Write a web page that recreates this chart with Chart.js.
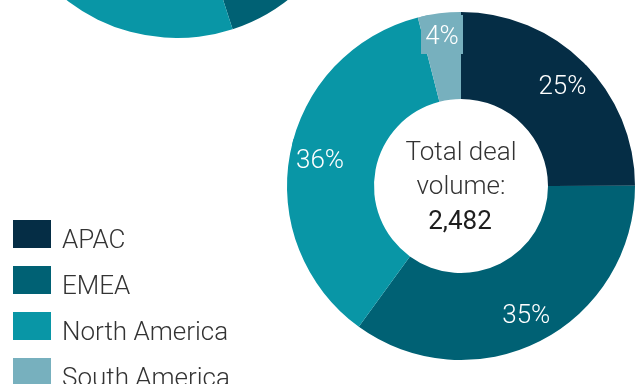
<!DOCTYPE html>
<html>
<head>
<meta charset="utf-8">
<script src="https://cdn.jsdelivr.net/npm/chart.js@4.4.1/dist/chart.umd.min.js"></script>
<style>
  html, body { margin: 0; width: 641px; height: 384px; overflow: hidden; background: #fff; }
  body { position: relative; font-family: Roboto, "Noto Sans", sans-serif; }
  #mainChart { position: absolute; left: 0; top: 0; }
  #otherChart { position: absolute; left: -3px; top: -322px; }
  #legend { position: absolute; left: 13px; top: 220px; margin: 0; padding: 0; list-style: none; }
  #legend li { display: flex; align-items: flex-start; height: 46px; }
  #legend .box { width: 38px; height: 28px; flex: none; }
  #legend .txt { margin-left: 11px; font-size: 26px; font-weight: 300; color: #333; line-height: 28px; position: relative; top: 5px; white-space: nowrap; }
</style>
</head>
<body>
<canvas id="otherChart" width="360" height="360"></canvas>
<canvas id="mainChart" width="641" height="384"></canvas>
<ul id="legend"></ul>
<script>
const regions = ["APAC", "EMEA", "North America", "South America"];
const regionColors = ["#052d45", "#006174", "#0996a6", "#77b0be"];
// deal counts per region (main doughnut)
const dealVolume = [620, 869, 894, 99];
// second doughnut, mostly outside the frame (share %)
const otherShare = [18, 27, 49, 6];
const centerLines = ["Total deal", "volume:"];

const total = dealVolume.reduce((a, b) => a + b, 0);

const legendEl = document.getElementById("legend");
regions.forEach((name, i) => {
  const li = document.createElement("li");
  li.innerHTML = '<span class="box" style="background:' + regionColors[i] + '"></span><span class="txt">' + name + "</span>";
  legendEl.appendChild(li);
});

// percentage labels on a box of the slice colour, placed along the mid angle
const sliceLabels = {
  id: "sliceLabels",
  afterDatasetsDraw(chart) {
    const ctx = chart.ctx;
    const meta = chart.getDatasetMeta(0);
    const data = chart.data.datasets[0].data;
    const sum = data.reduce((a, b) => a + b, 0);
    const size = 26;
    ctx.save();
    ctx.font = "300 " + size + "px Roboto";
    ctx.textAlign = "center";
    ctx.textBaseline = "alphabetic";
    meta.data.forEach((arc, i) => {
      const p = arc.getProps(["x", "y", "startAngle", "endAngle", "outerRadius"], true);
      const mid = (p.startAngle + p.endAngle) / 2;
      const pct = Math.round(data[i] / sum * 100);
      const text = pct + "%";
      // narrow slices get their label pushed a bit further out
      const r = p.outerRadius * (pct < 10 ? 0.875 : 0.825);
      const cx = p.x + Math.cos(mid) * r;
      const cy = p.y + Math.sin(mid) * r;
      const w = ctx.measureText(text).width + 8;
      const h = size * 1.2 + 8;
      ctx.save();
      ctx.beginPath();
      ctx.arc(p.x, p.y, p.outerRadius, 0, Math.PI * 2);
      ctx.clip();
      ctx.fillStyle = regionColors[i];
      ctx.fillRect(Math.round(cx - w / 2), Math.round(cy - h / 2), Math.round(w), Math.round(h));
      ctx.restore();
      ctx.fillStyle = "#ffffff";
      ctx.fillText(text, cx, cy + size * 0.355);
    });
    ctx.restore();
  }
};

const centerText = {
  id: "centerText",
  afterDraw(chart) {
    const arc = chart.getDatasetMeta(0).data[0];
    if (!arc) return;
    const ctx = chart.ctx;
    ctx.save();
    ctx.textAlign = "center";
    ctx.textBaseline = "alphabetic";
    ctx.fillStyle = "#333";
    ctx.font = "300 26px Roboto";
    ctx.fillText(centerLines[0], arc.x, arc.y - 26);
    ctx.fillText(centerLines[1], arc.x, arc.y + 8);
    ctx.fillStyle = "#1e1e1e";
    ctx.font = "400 26px Roboto";
    ctx.fillText(total.toLocaleString("en-US"), arc.x - 1, arc.y + 43);
    ctx.restore();
  }
};

const baseOptions = (padding) => ({
  responsive: false,
  animation: false,
  cutout: "50%",
  layout: { padding },
  plugins: { legend: { display: false }, tooltip: { enabled: false } },
});

const draw = () => {
  new Chart(document.getElementById("otherChart"), {
    type: "doughnut",
    data: {
      labels: regions,
      datasets: [{ data: otherShare, backgroundColor: regionColors, borderWidth: 0 }],
    },
    options: baseOptions(0),
  });

  new Chart(document.getElementById("mainChart"), {
    type: "doughnut",
    data: {
      labels: regions,
      datasets: [{ data: dealVolume, backgroundColor: regionColors, borderWidth: 0 }],
    },
    options: baseOptions({ left: 287, right: 6, top: 12, bottom: 24 }),
    plugins: [sliceLabels, centerText],
  });
};

Promise.all([
  document.fonts.load("300 26px Roboto"),
  document.fonts.load("400 26px Roboto"),
]).then(draw, draw);
</script>
</body>
</html>
